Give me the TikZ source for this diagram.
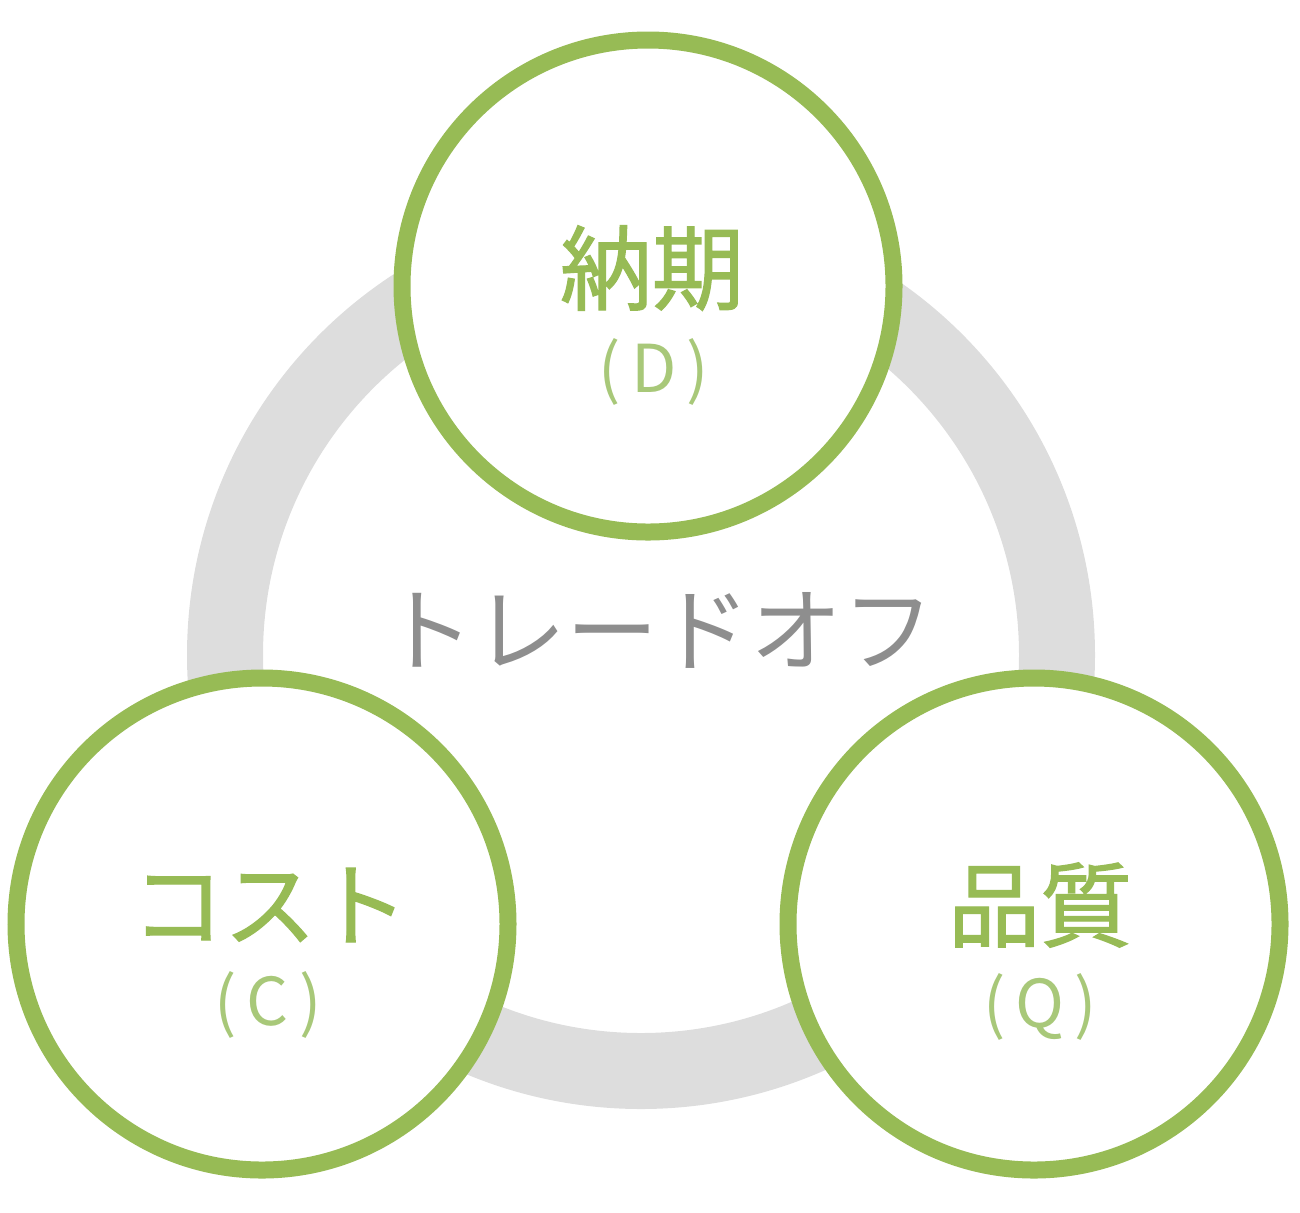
\documentclass[tikz,border=0pt]{standalone}
\usepackage{fontspec}
\newfontfamily\jp{Noto Sans CJK JP}
\newfontfamily\jpb{Noto Sans CJK JP}[FakeBold=1.4]
\definecolor{leaf}{HTML}{97BB55}
\definecolor{leaflight}{HTML}{A8C879}
\definecolor{ringgrey}{HTML}{DDDDDD}
\definecolor{txtgrey}{HTML}{8E8E8E}
\tikzset{
  x=0.5pt, y=-0.5pt,
  ring/.style={draw=ringgrey, line width=38pt},
  bubble/.style={circle, draw=leaf, fill=white, line width=8.5pt, minimum size=246pt, inner sep=0pt},
  title/.style={text=leaf, font=\jpb\fontsize{46pt}{50pt}\selectfont, inner sep=0pt},
  abbr/.style={text=leaflight, font=\jp\fontsize{33pt}{36pt}\selectfont, inner sep=0pt},
  center/.style={text=txtgrey, font=\jp\fontsize{46pt}{50pt}\selectfont, inner sep=0pt}
}
\begin{document}
\begin{tikzpicture}
\useasboundingbox (0,0) rectangle (1300,1212);
\coordinate (rc) at (641,655);
\draw[ring] (rc) circle[radius=416];
\node[center] (to) at (658,630) {トレードオフ};
\node[bubble] (d) at (648,286) {};
\node[bubble] (c) at (262,924) {};
\node[bubble] (q) at (1034,924) {};
\node[title] (dt) at (652,268) {納期};
\node[abbr] (da) at (654,372) {(\hspace{5pt}D\hspace{5pt})};
\node[title] (ct) at (270,905) {コスト};
\node[abbr] (ca) at (268,1005) {(\hspace{5pt}C\hspace{5pt})};
\node[title] (qt) at (1040,905) {品質};
\node[abbr] (qa) at (1040,1007) {(\hspace{5pt}Q\hspace{5pt})};
\end{tikzpicture}
\end{document}
